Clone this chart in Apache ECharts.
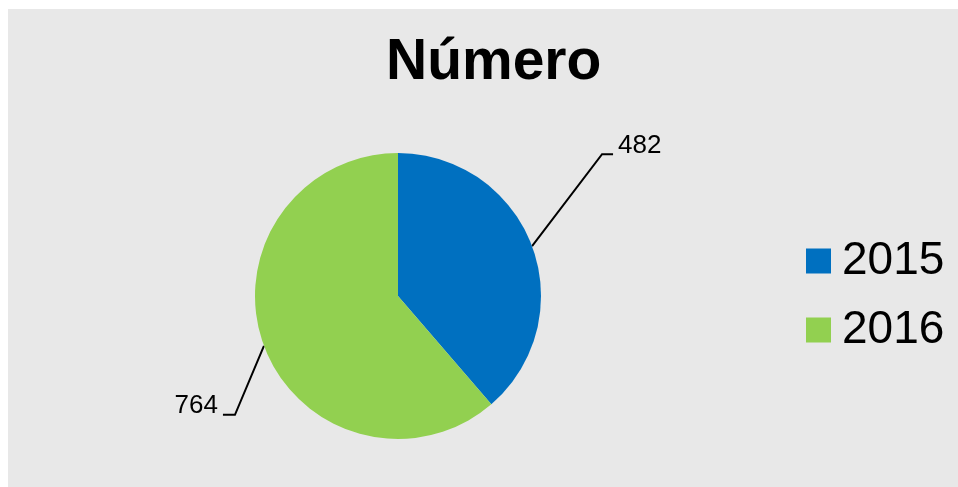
<!DOCTYPE html>
<html>
<head>
    <meta http-equiv="Content-Type" content="text/html; charset=UTF-8">
    <title>Número</title>
    <style type="text/css">
        body{
            margin:0;
            padding:0;
            background-color:white;
        }
        #wrap{
            position:relative;
            width:958px;
            height:487px;
            background-color:#ffffff;
        }
        #panel{
            position:absolute;
            left:8px;
            top:9px;
            right:0;
            bottom:0;
            background-color:#e8e8e8;
        }
        #main{
            position:absolute;
            left:0;
            top:0;
            width:958px;
            height:487px;
        }
    </style>
</head>
<body>
<div id="wrap">
    <div id="panel"></div>
    <div id="main"></div>
</div>
<script src="https://cdn.jsdelivr.net/npm/echarts@6/dist/echarts.min.js"></script>
<script type="text/javascript">
    // data
    var years = ['2015', '2016'];
    var counts = [482, 764];
    var colors = ['#0070c0', '#92d050'];

    // where the leader line bends and where the text sits, relative to the slice edge
    var bend = [[70, -92], [-29, 69]];
    var tail = [11, -12];
    var textShift = [[5, -8], [-5, -9]];

    var myChart = echarts.init(document.getElementById('main'));
    var font = '"Liberation Sans", Arial, sans-serif';

    var option = {
        backgroundColor: 'transparent',
        animation: false,
        title: {
            text: 'Número',
            left: 386,
            top: 35,
            padding: 0,
            textStyle: {
                fontFamily: font,
                fontSize: 57,
                fontWeight: 'bold',
                color: '#000000',
                lineHeight: 57
            }
        },
        legend: {
            orient: 'vertical',
            left: 806,
            top: 238,
            padding: 0,
            itemGap: 23,
            itemWidth: 25,
            itemHeight: 25,
            icon: 'rect',
            data: years,
            textStyle: {
                fontFamily: font,
                fontSize: 46,
                lineHeight: 46,
                color: '#000000',
                padding: [0, 0, 0, 6]
            }
        },
        series: [{
            type: 'pie',
            center: [398, 296],
            radius: 143,
            startAngle: 90,
            clockwise: true,
            avoidLabelOverlap: false,
            data: years.map(function(y, i) {
                return { name: y, value: counts[i], itemStyle: { color: colors[i] } };
            }),
            label: {
                show: true,
                formatter: '{c}',
                fontFamily: font,
                fontSize: 26,
                color: '#000000'
            },
            labelLine: {
                show: true,
                length: 20,
                length2: 10,
                lineStyle: { color: '#000000', width: 2 }
            },
            labelLayout: function(params) {
                var i = params.dataIndex;
                var p = params.labelLinePoints;
                if (!p) return {};
                var s = p[0];
                var b = [s[0] + bend[i][0], s[1] + bend[i][1]];
                var e = [b[0] + tail[i], b[1]];
                return {
                    x: e[0] + textShift[i][0],
                    y: e[1] + textShift[i][1],
                    align: i === 0 ? 'left' : 'right',
                    verticalAlign: 'middle',
                    labelLinePoints: [s, b, e]
                };
            },
            emphasis: { disabled: true }
        }]
    };
    myChart.setOption(option);
</script>
</body>
</html>
